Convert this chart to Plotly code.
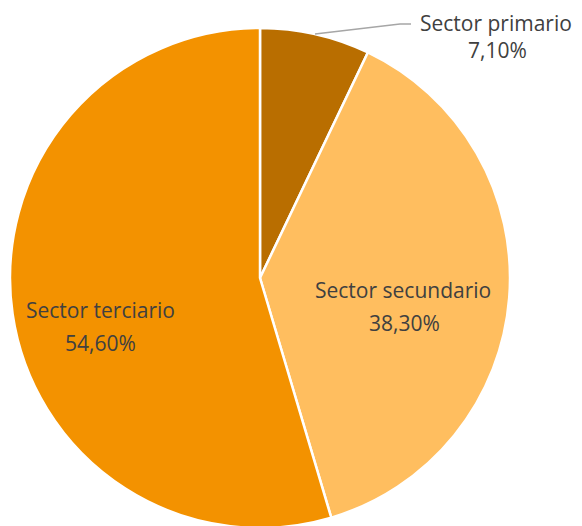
import plotly.graph_objects as go

labels = ["Sector primario", "Sector secundario", "Sector terciario"]
values = [7.1, 38.3, 54.6]
value_text = ["7,10%", "38,30%", "54,60%"]
colors = ["#B96E00", "#FFBE5F", "#F39200"]

W, H = 582, 526
OFF = 8  # page body margin offset

def px(x):
    return (x - OFF) / W

def py(y):
    return 1 - (y - OFF) / H

fig = go.Figure(go.Pie(
    labels=labels, values=values, sort=False, direction="clockwise", rotation=0,
    marker=dict(colors=colors, line=dict(color="white", width=2.5)),
    textinfo="none", hoverinfo="label+percent", showlegend=False,
    domain=dict(x=[px(10), px(510)], y=[py(528), py(28)]),
))

font = dict(family="Open Sans, Lato, sans-serif", size=21, color="#404040")

# primario label at top: anchor top to stay inside the figure
fig.add_annotation(x=px(496), y=1, xref="paper", yref="paper", text=labels[0],
                   showarrow=False, font=font, xanchor="center", yanchor="top", borderpad=0)
fig.add_annotation(x=px(497), y=py(50), xref="paper", yref="paper", text=value_text[0],
                   showarrow=False, font=font, xanchor="center", yanchor="middle")

label_pos = [(403, 290, 404, 323), (100, 310, 100, 343)]
for lab, vt, (lx, ly, vx, vy) in zip(labels[1:], value_text[1:], label_pos):
    fig.add_annotation(x=px(lx), y=py(ly), xref="paper", yref="paper", text=lab,
                       showarrow=False, font=font, xanchor="center", yanchor="middle")
    fig.add_annotation(x=px(vx), y=py(vy), xref="paper", yref="paper", text=vt,
                       showarrow=False, font=font, xanchor="center", yanchor="middle")

fig.add_shape(type="path", xref="paper", yref="paper",
              path=f"M {px(315)} {py(34)} L {px(400)} {py(24)} L {px(411)} {py(24)}",
              line=dict(color="#A6A6A6", width=1.5))

fig.update_layout(width=W, height=H, margin=dict(l=0, r=0, t=0, b=0),
                  paper_bgcolor="white", plot_bgcolor="white")
fig.write_html("out.html")
